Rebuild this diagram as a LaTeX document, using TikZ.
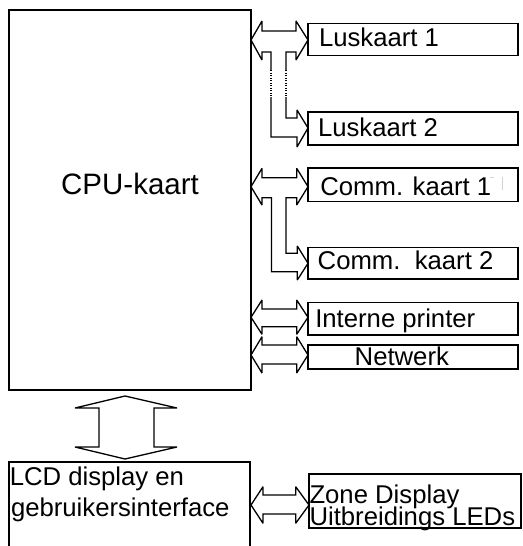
\documentclass[tikz,border=0pt]{standalone}
\usepackage{fontspec}
\setmainfont{Liberation Sans}
\begin{document}
\begin{tikzpicture}[x=1pt,y=-1pt,line width=1.3pt,line join=miter,miter limit=3,
  box/.style={draw,rectangle,inner sep=0pt,outer sep=0pt},
  txt/.style={inner sep=0pt,outer sep=0pt,anchor=base west,font=\fontsize{25.7pt}{30pt}\selectfont},
  bigtxt/.style={inner sep=0pt,outer sep=0pt,anchor=base west,font=\fontsize{29.5pt}{34pt}\selectfont},
  blockarrow/.style={draw,line width=1.3pt},
  dotstem/.style={draw,line width=1.3pt,dash pattern=on 1pt off 1.5pt}]
\useasboundingbox (0,0) rectangle (522,546);
\clip (0,0) rectangle (522,546);

% boxes
\node[box,minimum width=242pt,minimum height=380pt] (cpu) at (130,200) {};
\node[box,minimum width=210pt,minimum height=32pt] (lus1) at (413,39.5) {};
\node[box,minimum width=210pt,minimum height=33pt] (lus2) at (413,128.5) {};
\node[box,minimum width=210pt,minimum height=33.7pt] (comm1) at (413,184.85) {};
\node[box,minimum width=210pt,minimum height=31.3pt] (comm2) at (413,263.35) {};
\node[box,minimum width=210pt,minimum height=32.7pt] (prn) at (413,318.65) {};
\node[box,minimum width=210pt,minimum height=24pt] (netw) at (413,357) {};
\node[box,minimum width=241pt,minimum height=110pt] (lcd) at (129.5,517) {};
\node[box,minimum width=212pt,minimum height=54pt] (zone) at (415,501) {};

% texts
\node[bigtxt] (tcpu) at (61.2,194.7) {CPU-kaart};
\node[txt] (tlus1) at (319,46) {Luskaart 1};
\node[txt] (tlus2) at (318,136.7) {Luskaart 2};
\node[txt] (tcomm1) at (320.4,195) {Comm. kaart 1};
\node[txt] (tcomm2) at (317.7,269.3) {Comm.\ \ kaart 2};
\node[txt] (tprn) at (315.3,327.3) {Interne printer};
\node[txt] (tnetw) at (354.7,365) {Netwerk};
\node[txt] (tlcda) at (9.8,485) {LCD display en};
\node[txt] (tlcdb) at (11,516.7) {gebruikersinterface};
\node[txt] (tzone) at (309.5,503.3) {\begin{minipage}[t]{212pt}\fontsize{25.7pt}{21.7pt}\selectfont\lineskiplimit=-100pt\lineskip=0pt
Zone Display\par Uitbreidings LEDs\end{minipage}};

% faint marks after Comm. kaart 1
\draw[gray!35,line width=0.8pt] (490,177) -- (494,177) (502,177) -- (502,190);

% Luskaart bus (T-shape with dotted stems)
\draw[blockarrow] (271,70) -- (271,52) -- (262,52) -- (262,60) -- (251,40) -- (262,21) -- (262,31)
  -- (296,31) -- (296,21) -- (308,40) -- (296,60) -- (296,52) -- (286,52) -- (286,70);
\draw[dotstem] (271,70) -- (271,97) (286,70) -- (286,97);
\draw[blockarrow] (286,97) -- (286,118) -- (297,118) -- (297,110) -- (308,128) -- (297,147)
  -- (297,137) -- (271,137) -- (271,97);

% Comm bus
\draw[blockarrow] (271.5,197.7) -- (262,197.7) -- (262,205) -- (251,186.7) -- (262,168.3) -- (262,177.7)
  -- (296.7,177.7) -- (296.7,168.3) -- (308,186.7) -- (296.7,205) -- (296.7,197.7) -- (286,197.7)
  -- (286,253.3) -- (297.3,253.3) -- (297.3,246) -- (308,263.3) -- (297.3,280) -- (297.3,271.7)
  -- (271.5,271.7) -- cycle;

% printer
\draw[blockarrow] (251,317.3) -- (262,300) -- (262,309) -- (296.7,309) -- (296.7,300) -- (308,317.3)
  -- (296.7,334.3) -- (296.7,326.7) -- (262,326.7) -- (262,334.3) -- cycle;

% netwerk
\draw[blockarrow] (251,355) -- (262,336.7) -- (262,345) -- (296.7,345) -- (296.7,336.7) -- (308,355)
  -- (296.7,373) -- (296.7,364) -- (262,364) -- (262,373) -- cycle;

% zone display
\draw[blockarrow] (251,505) -- (263,486.7) -- (263,495) -- (295.7,495) -- (295.7,486.7) -- (309,505)
  -- (295.7,523.3) -- (295.7,514) -- (263,514) -- (263,523.3) -- cycle;

% CPU <-> LCD vertical arrow
\draw[blockarrow] (125,396) -- (177,408) -- (154,408) -- (154,447) -- (177,447) -- (125,459)
  -- (75,447) -- (99,447) -- (99,408) -- (75,408) -- cycle;
\end{tikzpicture}
\end{document}
